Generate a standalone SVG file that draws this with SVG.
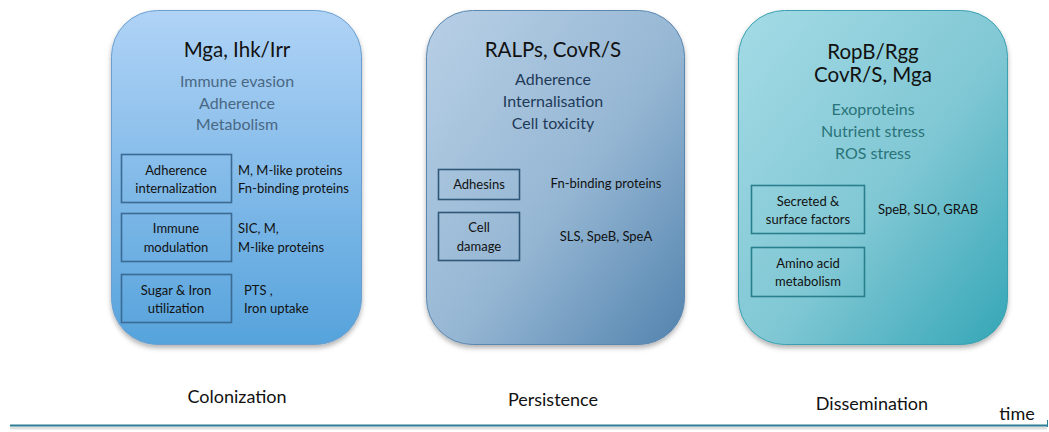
<svg xmlns="http://www.w3.org/2000/svg" width="1049" height="432" viewBox="0 0 1049 432">
<defs>
<linearGradient id="g1" x1="0" y1="0" x2="0" y2="1">
<stop offset="0" stop-color="#b0d3f6"/><stop offset="1" stop-color="#56a3dc"/>
</linearGradient>
<linearGradient id="g2" x1="0" y1="0" x2="1" y2="1">
<stop offset="0" stop-color="#b8d0e6"/><stop offset="0.55" stop-color="#95b6d3"/><stop offset="1" stop-color="#5283ae"/>
</linearGradient>
<linearGradient id="g3" x1="0" y1="0" x2="1" y2="1">
<stop offset="0" stop-color="#a4dbe6"/><stop offset="0.55" stop-color="#80c7d4"/><stop offset="1" stop-color="#34a6b6"/>
</linearGradient>
<filter id="sh" x="-10%" y="-10%" width="120%" height="120%">
<feDropShadow dx="0" dy="3" stdDeviation="2.5" flood-color="#000" flood-opacity="0.3"/>
</filter>
</defs>
<style>
text{font-family:Lato,"Open Sans","Liberation Sans",sans-serif;text-anchor:middle}
.t{font-size:20.5px;fill:#111}
.s{font-size:16px}
.i{font-size:13px;fill:#111}
.r{font-size:13px;fill:#111;text-anchor:start}
.b{font-size:18px;fill:#111}
.ib{fill:none;stroke-width:1.6}
</style>
<g id="colonization">
<rect x="111.5" y="10.5" width="250" height="334" rx="46" fill="url(#g1)" stroke="#6a9fcf" filter="url(#sh)"/>
<text class="t" x="237" y="57">Mga, Ihk/Irr</text>
<g class="s" fill="#4a6884">
<text x="237" y="87">Immune evasion</text>
<text x="237" y="109">Adherence</text>
<text x="237" y="130">Metabolism</text>
</g>
<g stroke="#3b6a92" class="ib">
<rect x="121.5" y="154.5" width="110" height="48"/>
<rect x="121.5" y="213.5" width="110" height="48"/>
<rect x="121.5" y="274.5" width="110" height="48"/>
</g>
<text class="i" x="176" y="175">Adherence</text>
<text class="i" x="176" y="193">internalization</text>
<text class="i" x="176" y="233">Immune</text>
<text class="i" x="176" y="252">modulation</text>
<text class="i" x="176" y="295">Sugar &amp; Iron</text>
<text class="i" x="176" y="313">utilization</text>
<text class="r" x="238" y="175">M, M-like proteins</text>
<text class="r" x="238" y="193">Fn-binding proteins</text>
<text class="r" x="238" y="233">SIC, M,</text>
<text class="r" x="238" y="252">M-like proteins</text>
<text class="r" x="244" y="295">PTS ,</text>
<text class="r" x="244" y="313">Iron uptake</text>
</g>
<g id="persistence">
<rect x="426.5" y="10.5" width="258" height="334" rx="46" fill="url(#g2)" stroke="#5b87b0" filter="url(#sh)"/>
<text class="t" x="553" y="57">RALPs, CovR/S</text>
<g class="s" fill="#1f3a58">
<text x="553" y="85">Adherence</text>
<text x="553" y="107">Internalisation</text>
<text x="553" y="129">Cell toxicity</text>
</g>
<g stroke="#2f5878" class="ib">
<rect x="438.5" y="169.5" width="81" height="30"/>
<rect x="438.5" y="212.5" width="81" height="48"/>
</g>
<text class="i" x="479" y="189">Adhesins</text>
<text class="i" x="479" y="232">Cell</text>
<text class="i" x="479" y="251">damage</text>
<text class="i" x="606" y="188">Fn-binding proteins</text>
<text class="i" x="606" y="241">SLS, SpeB, SpeA</text>
</g>
<g id="dissemination">
<rect x="738.5" y="10.5" width="269" height="334" rx="46" fill="url(#g3)" stroke="#3aa0b0" filter="url(#sh)"/>
<text class="t" x="873" y="59">RopB/Rgg</text>
<text class="t" x="873" y="82">CovR/S, Mga</text>
<g class="s" fill="#2a7479">
<text x="873" y="115">Exoproteins</text>
<text x="873" y="137">Nutrient stress</text>
<text x="873" y="159">ROS stress</text>
</g>
<g stroke="#2a7f8e" class="ib">
<rect x="751.5" y="185.5" width="113" height="48"/>
<rect x="751.5" y="247.5" width="113" height="49"/>
</g>
<text class="i" x="808" y="206">Secreted &amp;</text>
<text class="i" x="808" y="224">surface factors</text>
<text class="i" x="808" y="268">Amino acid</text>
<text class="i" x="808" y="286">metabolism</text>
<text class="r" x="878" y="214">SpeB, SLO, GRAB</text>
</g>
<g id="labels">
<text class="b" x="237" y="403">Colonization</text>
<text class="b" x="553" y="406">Persistence</text>
<text class="b" x="872" y="410">Dissemination</text>
<text class="b" x="1017" y="420">time</text>
</g>
<g id="connectors">
<line x1="10" y1="428" x2="1047" y2="428" stroke="#000" stroke-opacity="0.12" stroke-width="3"/>
<line x1="10" y1="425.5" x2="1047" y2="425.5" stroke="#2c7f95" stroke-width="2"/>
<line x1="1047.5" y1="420" x2="1047.5" y2="427" stroke="#2c7f95" stroke-width="1"/>
</g>
</svg>
